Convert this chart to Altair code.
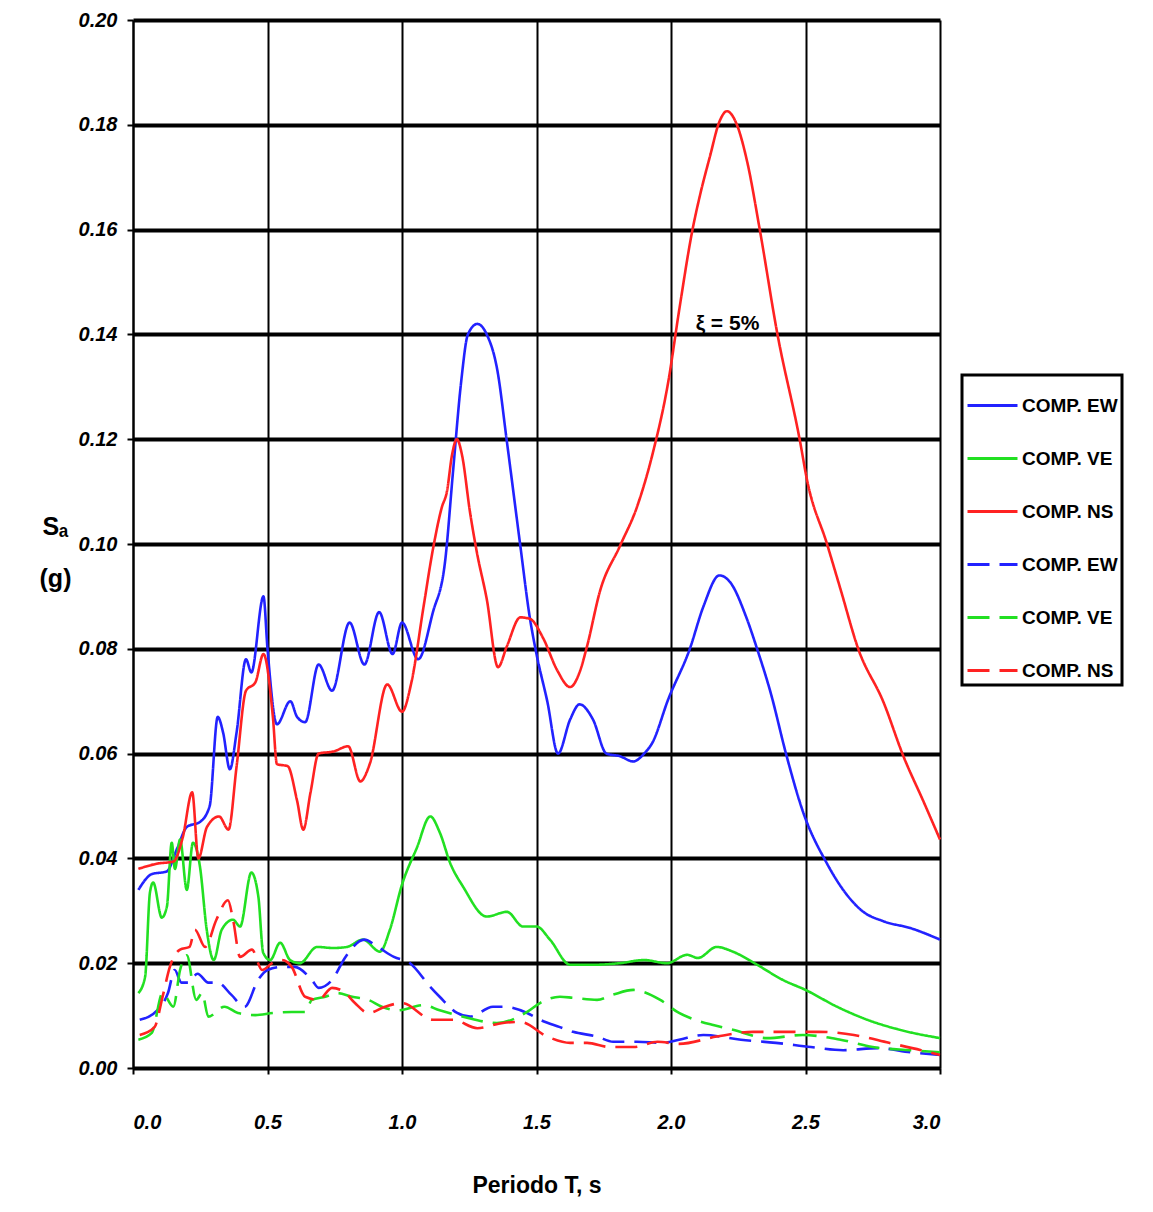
import altair as alt
import pandas as pd

# ---- data ----
ew_T = [0.02,0.07,0.125,0.165,0.2,0.25,0.285,0.315,0.335,0.36,0.385,0.42,0.44,0.485,0.50,0.535,0.585,0.61,0.64,0.69,0.74,0.805,0.86,0.915,0.965,1.0,1.06,1.115,1.16,1.19,1.22,1.245,1.28,1.315,1.355,1.39,1.44,1.475,1.5,1.54,1.58,1.625,1.66,1.71,1.76,1.81,1.86,1.9,1.93,1.99,2.07,2.12,2.18,2.22,2.28,2.32,2.37,2.43,2.49,2.58,2.64,2.71,2.79,2.89,3.0]
ew_Sa = [0.034,0.037,0.0375,0.042,0.046,0.047,0.050,0.067,0.064,0.057,0.064,0.078,0.0755,0.090,0.080,0.0656,0.070,0.067,0.066,0.077,0.072,0.085,0.077,0.087,0.079,0.085,0.078,0.087,0.0966,0.114,0.131,0.140,0.142,0.140,0.133,0.1195,0.0996,0.086,0.079,0.070,0.060,0.0665,0.0694,0.0665,0.060,0.0595,0.0585,0.060,0.062,0.0704,0.080,0.088,0.094,0.0927,0.086,0.080,0.0717,0.0595,0.049,0.039,0.034,0.030,0.028,0.0267,0.0245]

ns_T = [0.02,0.09,0.15,0.185,0.22,0.243,0.275,0.32,0.355,0.385,0.42,0.455,0.485,0.52,0.535,0.575,0.61,0.633,0.66,0.69,0.745,0.80,0.845,0.88,0.945,1.0,1.035,1.08,1.115,1.148,1.167,1.186,1.204,1.223,1.253,1.278,1.315,1.357,1.39,1.44,1.476,1.525,1.576,1.625,1.66,1.688,1.736,1.81,1.873,1.933,1.99,2.03,2.08,2.108,2.145,2.18,2.208,2.245,2.283,2.33,2.394,2.48,2.505,2.58,2.63,2.696,2.79,2.864,2.94,3.0]
ns_Sa = [0.038,0.039,0.0394,0.044,0.0526,0.040,0.046,0.048,0.0455,0.0575,0.072,0.0736,0.079,0.067,0.058,0.0576,0.051,0.0455,0.0526,0.060,0.0604,0.0614,0.0547,0.058,0.0732,0.068,0.0736,0.088,0.099,0.107,0.110,0.117,0.120,0.117,0.106,0.0985,0.0895,0.0765,0.0805,0.086,0.0857,0.082,0.076,0.0727,0.0755,0.0805,0.091,0.0996,0.107,0.1175,0.131,0.1445,0.160,0.1666,0.174,0.1806,0.1826,0.180,0.173,0.160,0.1405,0.1195,0.1124,0.100,0.0914,0.080,0.0698,0.0595,0.0507,0.0436]

ve_T = [0.02,0.045,0.063,0.075,0.107,0.126,0.144,0.156,0.175,0.2,0.223,0.249,0.274,0.3,0.33,0.372,0.398,0.44,0.466,0.484,0.51,0.547,0.584,0.62,0.684,0.744,0.795,0.855,0.918,0.955,1.0,1.055,1.105,1.14,1.18,1.227,1.315,1.39,1.45,1.5,1.55,1.625,1.71,1.81,1.9,1.985,2.06,2.1,2.17,2.23,2.32,2.416,2.5,2.617,2.73,2.85,3.0]
ve_Sa = [0.0143,0.0174,0.0335,0.0354,0.0287,0.0308,0.043,0.038,0.0436,0.034,0.043,0.0384,0.0264,0.0206,0.0264,0.0283,0.027,0.0373,0.0327,0.022,0.0206,0.0239,0.0206,0.020,0.0231,0.0229,0.0231,0.0245,0.0222,0.0264,0.035,0.042,0.048,0.045,0.039,0.0346,0.0289,0.0298,0.027,0.027,0.0245,0.0197,0.0197,0.020,0.0206,0.020,0.0216,0.021,0.0231,0.0222,0.0197,0.0168,0.0149,0.0117,0.0092,0.0073,0.0057]

ew2_T = [0.025,0.09,0.13,0.155,0.18,0.205,0.24,0.28,0.315,0.365,0.415,0.465,0.50,0.555,0.60,0.665,0.69,0.74,0.79,0.86,0.91,0.97,1.03,1.105,1.14,1.205,1.253,1.338,1.375,1.465,1.513,1.587,1.636,1.725,1.785,1.873,1.97,2.03,2.12,2.26,2.39,2.52,2.64,2.77,2.89,3.0]
ew2_Sa = [0.0092,0.011,0.0143,0.0187,0.0163,0.0163,0.018,0.0163,0.0163,0.014,0.0117,0.0168,0.0187,0.0193,0.0193,0.0168,0.0153,0.0168,0.0212,0.0245,0.0231,0.0212,0.020,0.0155,0.0136,0.0105,0.0098,0.0117,0.0117,0.0105,0.0092,0.0078,0.0069,0.006,0.005,0.005,0.0048,0.0054,0.0063,0.0054,0.0048,0.004,0.0034,0.0038,0.003,0.0025]

ve2_T = [0.02,0.07,0.11,0.15,0.175,0.2,0.235,0.257,0.28,0.34,0.39,0.455,0.52,0.59,0.64,0.665,0.715,0.76,0.815,0.875,0.925,0.985,1.08,1.14,1.227,1.353,1.465,1.513,1.587,1.636,1.725,1.785,1.86,1.9,1.96,2.03,2.09,2.157,2.23,2.357,2.49,2.63,2.75,2.89,3.0]
ve2_Sa = [0.0054,0.0067,0.0143,0.0117,0.0187,0.0215,0.013,0.0143,0.0098,0.0117,0.0105,0.0101,0.0105,0.0107,0.0107,0.013,0.0136,0.0143,0.0136,0.013,0.0117,0.011,0.012,0.011,0.0098,0.0086,0.0107,0.0124,0.0136,0.0134,0.013,0.014,0.0149,0.0145,0.013,0.0105,0.0092,0.0082,0.0073,0.0057,0.0063,0.0054,0.004,0.0034,0.003]

ns2_T = [0.025,0.08,0.11,0.137,0.175,0.21,0.23,0.268,0.31,0.353,0.372,0.398,0.442,0.48,0.517,0.553,0.59,0.64,0.69,0.74,0.79,0.825,0.875,0.937,1.0,1.115,1.19,1.28,1.375,1.44,1.54,1.625,1.688,1.773,1.86,1.95,2.03,2.17,2.305,2.43,2.55,2.68,2.81,2.93,3.0]
ns2_Sa = [0.0063,0.0078,0.0136,0.0193,0.0226,0.0231,0.0264,0.0231,0.0283,0.032,0.0283,0.0212,0.0226,0.0187,0.020,0.0206,0.0193,0.0136,0.013,0.0153,0.0143,0.0124,0.0105,0.0117,0.0124,0.0092,0.0092,0.0076,0.0086,0.0088,0.006,0.0048,0.0048,0.004,0.004,0.005,0.0046,0.006,0.0069,0.0069,0.0069,0.0063,0.0048,0.0034,0.0025]

series_keys = ["EW_s", "VE_s", "NS_s", "EW_d", "VE_d", "NS_d"]
series_data = [(ew_T, ew_Sa), (ve_T, ve_Sa), (ns_T, ns_Sa),
               (ew2_T, ew2_Sa), (ve2_T, ve2_Sa), (ns2_T, ns2_Sa)]
colors = ["#2222ff", "#22e022", "#ff2222", "#2222ff", "#22e022", "#ff2222"]
dashes = [[1, 0], [1, 0], [1, 0], [22, 10], [22, 10], [22, 10]]

x_ticks = [0.0, 0.5, 1.0, 1.5, 2.0, 2.5, 3.0]
y_ticks = [0.00, 0.02, 0.04, 0.06, 0.08, 0.10, 0.12, 0.14, 0.16, 0.18, 0.20]

ann_T = [2.21]
ann_Sa = [0.142]
ann_text = ["ξ = 5%"]

rows = []
for key, (ts, ss) in zip(series_keys, series_data):
    for t, s in zip(ts, ss):
        rows.append({"T": t, "Sa": s, "serie": key})
df = pd.DataFrame(rows)
ann_df = pd.DataFrame({"T": ann_T, "Sa": ann_Sa, "txt": ann_text})

FONT = "Liberation Sans, Arial, sans-serif"
label_expr = "'COMP. ' + slice(datum.label, 0, 2)"

legend = alt.Legend(title=None, labelExpr=label_expr)

lines = alt.Chart(df).mark_line(strokeWidth=2.6, interpolate="monotone").encode(
    x=alt.X("T:Q", scale=alt.Scale(domain=[0, 3], nice=False),
            axis=alt.Axis(values=x_ticks, format=".1f", title="Periodo T, s",
                          grid=True, gridColor="black", gridWidth=2, gridOpacity=1,
                          tickColor="black", tickWidth=2, tickSize=6,
                          domainColor="black", domainWidth=2,
                          labelPadding=38, labelFontSize=20, labelFont=FONT,
                          labelFontWeight="bold", labelFontStyle="italic", labelColor="black",
                          titleFont=FONT, titleFontSize=23, titleFontWeight="bold",
                          titleColor="black", titleY=124, titleBaseline="alphabetic")),
    y=alt.Y("Sa:Q", scale=alt.Scale(domain=[0, 0.2], nice=False),
            axis=alt.Axis(values=y_ticks, format=".2f", title=["Sₐ", "(g)"],
                          grid=True, gridColor="black", gridWidth=4, gridOpacity=1,
                          tickColor="black", tickWidth=2, tickSize=6,
                          domainColor="black", domainWidth=2,
                          labelPadding=10, labelFontSize=20, labelFont=FONT,
                          labelFontWeight="bold", labelFontStyle="italic", labelColor="black",
                          titleFont=FONT, titleFontSize=25, titleFontWeight="bold",
                          titleColor="black", titleAngle=0, titleAlign="center",
                          titleX=-78, titleY=514, titleLineHeight=52,
                          titleBaseline="alphabetic")),
    color=alt.Color("serie:N", scale=alt.Scale(domain=series_keys, range=colors),
                    legend=legend),
    strokeDash=alt.StrokeDash("serie:N", scale=alt.Scale(domain=series_keys, range=dashes),
                              legend=legend),
    detail="serie:N",
)

ann = alt.Chart(ann_df).mark_text(font=FONT, fontSize=21, fontWeight="bold",
                                  color="black", align="center", baseline="middle").encode(
    x="T:Q", y="Sa:Q", text="txt:N")

chart = alt.layer(lines, ann).properties(
    width=807, height=1048,
    autosize=alt.AutoSizeParams(type="none"),
    padding={"left": 125, "top": 12, "right": 200, "bottom": 134},
    background="white",
).configure_view(stroke=None).configure_legend(
    orient="none", legendX=829, legendY=355,
    strokeColor="black", strokeWidth=3, fillColor="white", padding=4,
    symbolType="stroke", symbolSize=2500, symbolStrokeWidth=3,
    rowPadding=16, labelOffset=3, labelFont=FONT, labelFontSize=19,
    labelFontWeight="bold", labelColor="black", labelLimit=200,
)

chart.save("out.html", embed_options={"renderer": "svg", "actions": False})
